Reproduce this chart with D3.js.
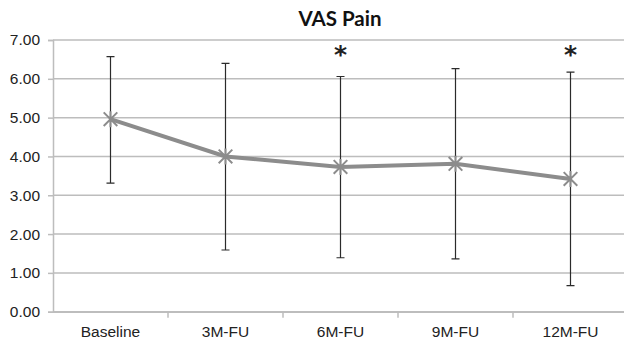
<!DOCTYPE html>
<html>
<head>
<meta charset="utf-8">
<script src="https://cdn.jsdelivr.net/npm/d3@7"></script>
<style>
    body { margin: 0; background: #fff; }
    svg { display: block; font-family: Lato, "Open Sans", sans-serif; }
</style>
</head>
<body>
<div id="chart"></div>
<script>
const categories = ['Baseline', '3M-FU', '6M-FU', '9M-FU', '12M-FU'];
const means = [4.96, 4.00, 3.73, 3.81, 3.42];
const upper = [6.57, 6.40, 6.06, 6.26, 6.17];
const lower = [3.31, 1.59, 1.39, 1.36, 0.67];
const significant = [false, false, true, false, true];
const yTicks = [0, 1, 2, 3, 4, 5, 6, 7];

const width = 624, height = 347;
const ml = 53, mr = -4, mt = 40, mb = 35.3;

let svg = d3.select('#chart').append('svg')
    .attr('width', width)
    .attr('height', height);

let X = d3.scaleBand()
    .domain(categories)
    .range([ml, width - mr]);
let Y = d3.scaleLinear()
    .domain([0, 7])
    .range([height - mb, mt]);
let cx = d => X(d) + X.bandwidth()/2;

// grid
svg.append('g').attr('class', 'y-grid')
    .selectAll('line').data(yTicks).join('line')
    .attr('x1', ml).attr('x2', width - mr)
    .attr('y1', d => Y(d)).attr('y2', d => Y(d))
    .attr('stroke', '#bdbdbd')
    .attr('stroke-width', 1.5);

// axes
let yAxis = d3.axisLeft(Y).tickValues(yTicks).tickFormat(d3.format('.2f')).tickSize(5).tickPadding(5);
let gy = svg.append('g').attr('transform', `translate(${ml},0)`).call(yAxis);
let xAxis = d3.axisBottom(X).tickSize(0).tickPadding(15);
let gx = svg.append('g').attr('transform', `translate(0,${Y(0)})`).call(xAxis);
// x ticks sit on the category boundaries
gx.append('g').selectAll('line')
    .data(categories.slice(1))
    .join('line')
    .attr('x1', d => X(d)).attr('x2', d => X(d))
    .attr('y1', 0).attr('y2', 6)
    .attr('stroke', '#bdbdbd').attr('stroke-width', 1.5);
for (let g of [gx, gy]) {
    g.select('.domain').attr('stroke', '#bdbdbd').attr('stroke-width', 1.5);
    g.selectAll('.tick line').attr('stroke', '#bdbdbd').attr('stroke-width', 1.5);
    g.selectAll('.tick text')
        .attr('fill', '#222')
        .style('font-size', '15.5px');
}
gy.selectAll('.tick text').attr('dx', -3);
gx.selectAll('.tick text').attr('dy', '0.65em');

// error bars
let cap = 4;
svg.append('path')
    .attr('d', categories.map((c, i) => {
        let x = cx(c);
        return `M${x},${Y(upper[i])}V${Y(lower[i])}` +
            `M${x - cap},${Y(upper[i])}h${2*cap}` +
            `M${x - cap},${Y(lower[i])}h${2*cap}`;
    }).join(' '))
    .attr('stroke', '#2b2b2b')
    .attr('stroke-width', 1.2)
    .attr('fill', 'none');

// mean line
svg.append('path')
    .datum(means)
    .attr('d', d3.line().x((d, i) => cx(categories[i])).y(d => Y(d)))
    .attr('stroke', '#8c8c8c')
    .attr('stroke-width', 4)
    .attr('fill', 'none');

// star markers
let r = 8;
svg.append('g').selectAll('path')
    .data(means)
    .join('path')
    .attr('transform', (d, i) => `translate(${cx(categories[i])},${Y(d)})`)
    .attr('d', `M${-r*0.85},${-r*0.85}L${r*0.85},${r*0.85}M${-r*0.85},${r*0.85}L${r*0.85},${-r*0.85}M0,${-r}V${r}`)
    .attr('stroke', '#8c8c8c')
    .attr('stroke-width', 2)
    .attr('fill', 'none');

// significance asterisks
svg.append('g').selectAll('text')
    .data(categories.filter((c, i) => significant[i]))
    .join('text')
    .attr('x', d => cx(d))
    .attr('y', 63)
    .attr('text-anchor', 'middle')
    .attr('fill', '#222')
    .style('font-size', '25px')
    .style('font-weight', 'bold')
    .style('font-family', '"DejaVu Sans", sans-serif')
    .text('*');

// title
svg.append('text')
    .attr('x', 340)
    .attr('y', 26)
    .attr('text-anchor', 'middle')
    .attr('fill', '#111')
    .style('font-size', '20.5px')
    .style('font-weight', 'bold')
    .text('VAS Pain');
</script>
</body>
</html>
